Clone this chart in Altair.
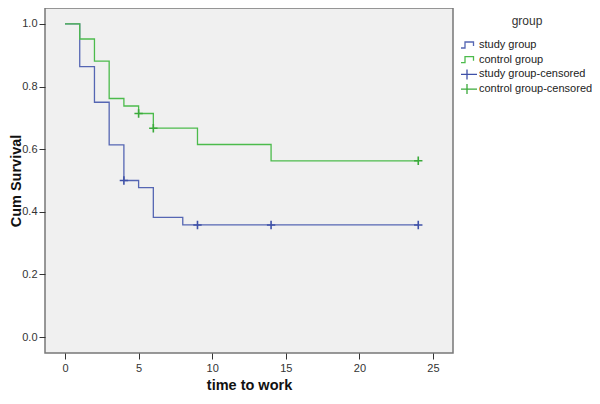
import altair as alt
import pandas as pd

# ---- data ----
study_t = [0, 1, 2, 3, 4, 5, 6, 8, 24]
study_s = [1.0, 0.864, 0.750, 0.614, 0.500, 0.477, 0.382, 0.358, 0.358]
study_cens_t = [4, 9, 14, 24]
study_cens_s = [0.500, 0.358, 0.358, 0.358]

control_t = [0, 1, 2, 3, 4, 5, 6, 9, 14, 24]
control_s = [1.0, 0.952, 0.881, 0.762, 0.738, 0.714, 0.667, 0.615, 0.563, 0.563]
control_cens_t = [5, 6, 24]
control_cens_s = [0.714, 0.667, 0.563]

labels = ["study group", "control group", "study group-censored", "control group-censored"]
colors = ["#5566b3", "#4cbb4c", "#3f51a8", "#3aaa3a"]
x_ticks = [0, 5, 10, 15, 20, 25]
y_ticks = [0.0, 0.2, 0.4, 0.6, 0.8, 1.0]

# ---- tables ----
lines = pd.concat([
    pd.DataFrame({"t": study_t, "s": study_s, "group": labels[0]}),
    pd.DataFrame({"t": control_t, "s": control_s, "group": labels[1]}),
])
cens = pd.concat([
    pd.DataFrame({"t": study_cens_t, "s": study_cens_s, "group": labels[2]}),
    pd.DataFrame({"t": control_cens_t, "s": control_cens_s, "group": labels[3]}),
])
legend_df = pd.DataFrame({"t": [-50] * 4, "s": [0.5] * 4, "group": labels})

step_path = "M-2,0.6L-0.4,0.6L-0.4,-0.6L1.3,-0.6L1.3,0.2"
cross_path = "M-2,0L2,0M0,-1L0,1"

xscale = alt.Scale(domain=[-1.36, 26.36], nice=False, zero=False)
yscale = alt.Scale(domain=[-0.051, 1.051], nice=False, zero=False)
cscale = alt.Scale(domain=labels, range=colors)
leg = alt.Legend(orient="none", legendX=416, legendY=8)

xenc = alt.X("t:Q", scale=xscale,
             axis=alt.Axis(values=x_ticks, title="time to work", titleY=36,
                           titleBaseline="alphabetic", labelPadding=3))
yenc = alt.Y("s:Q", scale=yscale,
             axis=alt.Axis(values=y_ticks, format=".1f", title="Cum Survival",
                           titleX=-25, titleBaseline="alphabetic", labelPadding=2))

legend_layer = alt.Chart(legend_df).mark_point(size=100, filled=False, opacity=1, strokeWidth=1.3, clip=True).encode(
    x=xenc, y=yenc,
    color=alt.Color("group:N", scale=cscale, title="group", legend=leg),
    shape=alt.Shape("group:N", scale=alt.Scale(domain=labels,
                    range=[step_path, step_path, cross_path, cross_path]),
                    title="group", legend=leg),
)

line_layer = alt.Chart(lines).mark_line(interpolate="step-after", strokeWidth=1.3, clip=True).encode(
    x="t:Q", y="s:Q",
    color=alt.Color("group:N", scale=cscale, title="group", legend=leg),
    detail="group:N",
)

cens_layer = alt.Chart(cens).mark_point(
    shape="M-1,0L1,0M0,-1L0,1", size=70, strokeWidth=1.6, filled=False, opacity=1, clip=True
).encode(
    x="t:Q", y="s:Q",
    color=alt.Color("group:N", scale=cscale, title="group", legend=leg),
)

chart = alt.layer(legend_layer, line_layer, cens_layer).properties(
    width=408, height=345,
    autosize=alt.AutoSizeParams(type="none"),
    padding={"left": 37, "top": 0, "right": 139, "bottom": 41},
    background="white",
).configure_view(
    fill="#f0f0f0", stroke="#777777", strokeWidth=1.5,
).configure_axis(
    grid=False, domain=False, tickColor="#333333", tickSize=6,
    labelFont="Liberation Sans", labelFontSize=11, labelColor="#333333",
    titleFont="Liberation Sans", titleFontSize=14.5, titleFontWeight="bold", titleColor="#111111",
).configure_legend(
    titleFont="Liberation Sans", titleFontSize=12, titleFontWeight="normal", titleColor="#333333",
    titleAnchor="middle", titlePadding=11,
    labelFont="Liberation Sans", labelFontSize=11, labelColor="#222222",
    symbolSize=100, symbolStrokeWidth=1.3, labelOffset=6, rowPadding=2.7, clipHeight=12,
)

chart.save("out.html", embed_options={"renderer": "svg", "actions": False})
